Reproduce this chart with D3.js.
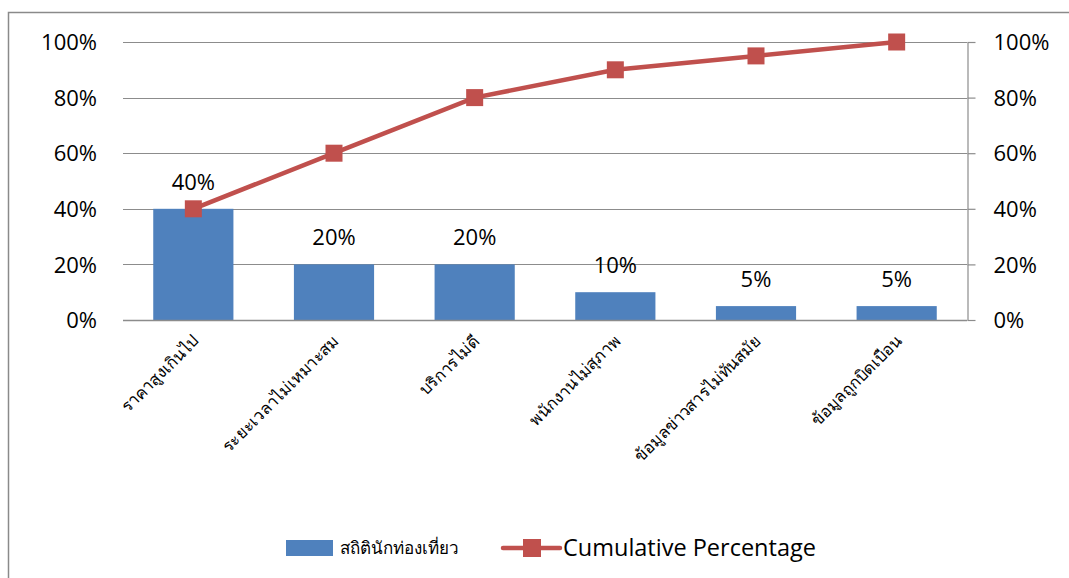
<!DOCTYPE html>
<html>
<head>
<meta charset="utf-8">
<script src="https://cdn.jsdelivr.net/npm/d3@7"></script>
<style>
  html, body { margin: 0; padding: 0; background: #fff; }
  svg { display: block; }
  text { font-family: "Open Sans", "Noto Sans", "DejaVu Sans", sans-serif; fill: #000; }
</style>
</head>
<body>
<svg id="chart" width="1069" height="578"></svg>
<script>
// Pareto chart: share of tourist complaints with cumulative percentage
const categories = [
  "ราคาสูงเกินไป",
  "ระยะเวลาไม่เหมาะสม",
  "บริการไม่ดี",
  "พนักงานไม่สุภาพ",
  "ข้อมูลข่าวสารไม่ทันสมัย",
  "ข้อมูลถูกบิดเบือน"
];
const shareValues = [0.40, 0.20, 0.20, 0.10, 0.05, 0.05];
const cumulativeValues = [0.40, 0.60, 0.80, 0.90, 0.95, 1.00];
const yTicks = [0, 0.2, 0.4, 0.6, 0.8, 1.0];
const barSeriesName = "สถิตินักท่องเที่ยว";
const lineSeriesName = "Cumulative Percentage";

const svg = d3.select("#chart");
const barColor = "#4F81BD";
const lineColor = "#C0504D";
const gridColor = "#8c8c8c";

const plot = { left: 123, right: 967, top: 42, bottom: 320 };
const pct = d3.format(".0%");

// Chart frame
svg.append("rect")
  .attr("x", 8.5).attr("y", 12.5)
  .attr("width", 1200).attr("height", 700)
  .attr("fill", "none").attr("stroke", "#8a8a8a").attr("stroke-width", 1.5);

const x = d3.scaleBand().domain(categories).range([plot.left, plot.right]).paddingInner(0.43).paddingOuter(0.215);
const y = d3.scaleLinear().domain([0, 1]).range([plot.bottom, plot.top]);
const y2 = d3.scaleLinear().domain([0, 1]).range([plot.bottom, plot.top]);
const cx = d => x(d) + x.bandwidth() / 2;

// Gridlines
svg.append("g")
  .selectAll("line").data(yTicks).join("line")
  .attr("x1", plot.left).attr("x2", plot.right)
  .attr("y1", d => Math.round(y(d)) + 0.5).attr("y2", d => Math.round(y(d)) + 0.5)
  .attr("stroke", gridColor).attr("stroke-width", 1.2);

// Left axis labels
const leftAxis = svg.append("g")
  .attr("transform", `translate(${plot.left},0)`)
  .call(d3.axisLeft(y).tickValues(yTicks).tickFormat(pct).tickSize(0).tickPadding(26));
leftAxis.select(".domain").remove();
leftAxis.selectAll("text").style("font-size", "22px").attr("dy", "0.35em");

// Right axis with line and outward ticks
const rightAxis = svg.append("g")
  .attr("transform", `translate(${plot.right + 0.5},0)`)
  .call(d3.axisRight(y2).tickValues(yTicks).tickFormat(pct).tickSizeInner(8).tickSizeOuter(0).tickPadding(18));
rightAxis.select(".domain").attr("stroke", gridColor).attr("stroke-width", 1.2);
rightAxis.selectAll(".tick line").attr("stroke", gridColor).attr("stroke-width", 1.2);
rightAxis.selectAll("text").style("font-size", "22px").attr("text-anchor", "start").attr("dy", "0.35em");

// Bars
svg.append("g")
  .selectAll("rect").data(categories).join("rect")
  .attr("x", d => x(d))
  .attr("y", (d, i) => y(shareValues[i]))
  .attr("width", x.bandwidth())
  .attr("height", (d, i) => y(0) - y(shareValues[i]))
  .attr("fill", barColor);

// Bar value labels
svg.append("g")
  .selectAll("text").data(categories).join("text")
  .attr("x", d => cx(d))
  .attr("y", (d, i) => y(shareValues[i]) - 19)
  .attr("text-anchor", "middle")
  .style("font-size", "22px")
  .text((d, i) => pct(shareValues[i]));

// Baseline axis
svg.append("line")
  .attr("x1", plot.left).attr("x2", plot.right)
  .attr("y1", Math.round(y(0)) + 0.5).attr("y2", Math.round(y(0)) + 0.5)
  .attr("stroke", gridColor).attr("stroke-width", 1.5);

// Category labels, rotated
svg.append("g")
  .selectAll("text").data(categories).join("text")
  .attr("transform", d => `translate(${cx(d) + 6},${plot.bottom + 22}) rotate(-45)`)
  .attr("text-anchor", "end")
  .style("font-size", "16.5px")
  .style("font-weight", "300")
  .text(d => d);

// Cumulative line with square markers
const line = d3.line().x(d => cx(d.c)).y(d => y2(d.v));
const pts = categories.map((c, i) => ({ c, v: cumulativeValues[i] }));
svg.append("path")
  .datum(pts)
  .attr("d", line)
  .attr("fill", "none").attr("stroke", lineColor).attr("stroke-width", 4.5);
svg.append("g")
  .selectAll("rect").data(pts).join("rect")
  .attr("x", d => cx(d.c) - 8.5).attr("y", d => y2(d.v) - 8.5)
  .attr("width", 17).attr("height", 17)
  .attr("fill", lineColor);

// Legend
const legend = svg.append("g");
legend.append("rect").attr("x", 286).attr("y", 540).attr("width", 47).attr("height", 16).attr("fill", barColor);
legend.append("text").attr("x", 340).attr("y", 548).attr("dy", "0.35em").style("font-size", "17px").style("font-weight", "300").text(barSeriesName);
legend.append("line").attr("x1", 503).attr("x2", 560).attr("y1", 548).attr("y2", 548)
  .attr("stroke", lineColor).attr("stroke-width", 4.5).attr("stroke-linecap", "round");
legend.append("rect").attr("x", 523).attr("y", 539).attr("width", 18).attr("height", 18).attr("fill", lineColor);
legend.append("text").attr("x", 563).attr("y", 548).attr("dy", "0.35em").style("font-size", "23.5px").text(lineSeriesName);
</script>
</body>
</html>
